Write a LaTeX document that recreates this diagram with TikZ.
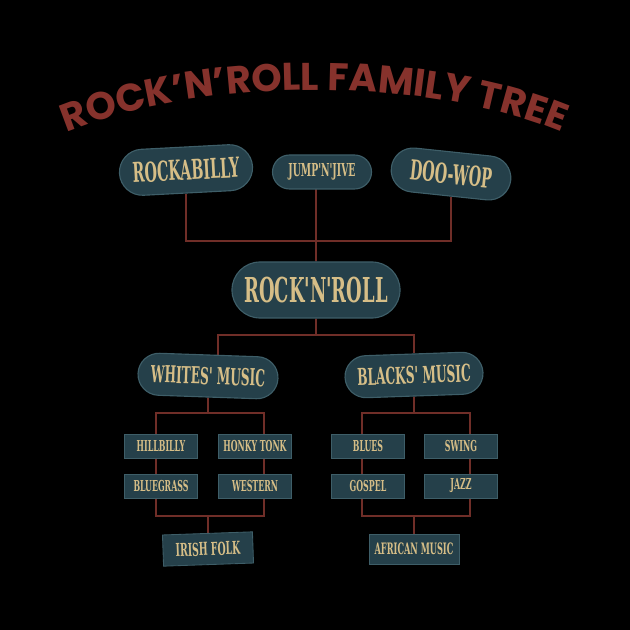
\documentclass[tikz,border=0pt]{standalone}
\usepackage{fontspec}
\usepackage{xcolor}
\usepackage{tikz}
\usetikzlibrary{shapes.misc,decorations.text}
\newfontfamily\titlefont{Poppins}
\newfontfamily\westfont{DejaVu Serif Condensed}[FakeStretch=0.58]
\newcommand\wsize[1]{\westfont\bfseries\fontsize{#1}{#1}\selectfont}
\definecolor{titlered}{RGB}{134,50,44}
\definecolor{linkred}{RGB}{112,46,40}
\definecolor{tealbox}{RGB}{37,64,74}
\definecolor{tealedge}{RGB}{62,94,104}
\definecolor{tan}{RGB}{214,190,135}
\pgfdeclarelayer{back}
\pgfdeclarelayer{links}
\pgfsetlayers{back,links,main}

\begin{document}
\begin{tikzpicture}[x=0.025cm, y=-0.025cm,
    pill/.style={rounded rectangle, fill=tealbox, draw=tealedge, line width=0.8pt,
        text=tan, inner sep=0pt, font=\wsize{#1}},
    tag/.style={rectangle, fill=tealbox, draw=tealedge, line width=0.6pt, text=tan,
        inner sep=0pt, font=\wsize{10.7}, minimum width=1.825cm, minimum height=0.6cm},
    link/.style={draw=linkred, line width=1.3pt}]
    \begin{pgfonlayer}{back}
        \fill[black] (0,0) rectangle (630,630);
    \end{pgfonlayer}

    % title on an arc
    \path[decorate, decoration={text along path, text align=center, text color=titlered,
        text={|\titlefont\bfseries\fontsize{27.5}{27.5}\selectfont|ROCK’N’ROLL FAMILY TREE}}]
        (60,135) .. controls (200,75) and (430,75) .. (568,135);

    % roots
    \node[pill=19.5, minimum width=3.33cm, minimum height=1.15cm, rotate=3] (rockabilly) at (186,170) {ROCKABILLY};
    \node[pill=12.7, minimum width=2.475cm, minimum height=0.85cm] (jumpjive) at (322,172) {JUMP'N'JIVE};
    \node[pill=19.5, minimum width=3.0cm, minimum height=1.1cm, rotate=-6] (doowop) at (451,174) {DOO-WOP};
    \node[pill=24.4, minimum width=4.2cm, minimum height=1.4cm] (rocknroll) at (316,290) {ROCK'N'ROLL};

    \node[pill=16.6, minimum width=3.5cm, minimum height=1.05cm, rotate=-2] (whites) at (208,376) {WHITES' MUSIC};
    \node[pill=16.6, minimum width=3.45cm, minimum height=1.05cm, rotate=2] (blacks) at (414,375) {BLACKS' MUSIC};

    % whites' music
    \node[tag] (hillbilly) at (161,446) {HILLBILLY};
    \node[tag] (honkytonk) at (255,446) {HONKY TONK};
    \node[tag] (bluegrass) at (161,486) {BLUEGRASS};
    \node[tag] (western) at (255,486) {WESTERN};
    \node[tag, font=\wsize{12.7}, minimum width=2.25cm, minimum height=0.78cm, rotate=2] (irishfolk) at (208,549) {IRISH FOLK};

    % blacks' music
    \node[tag] (blues) at (368,446) {BLUES};
    \node[tag] (swing) at (461,446) {SWING};
    \node[tag] (gospel) at (368,486) {GOSPEL};
    \node[tag] (jazz) at (461,486) {JAZZ};
    \node[tag, font=\wsize{11.2}, minimum width=2.25cm, minimum height=0.75cm] (african) at (414,549) {AFRICAN MUSIC};

    \coordinate (topjoin) at (316,241);
    \coordinate (midjoin) at (316,335);
    \coordinate (wtopl) at (156,413);
    \coordinate (wbotr) at (264,516);
    \coordinate (btopl) at (362,413);
    \coordinate (bbotr) at (470,516);

    \begin{pgfonlayer}{links}
        \draw[link] (rockabilly) |- (topjoin) -| (doowop);
        \draw[link] (topjoin |- jumpjive) -- (rocknroll);
        \draw[link] (rocknroll) -- (midjoin);
        \draw[link] ([xshift=7pt]whites.center) |- (midjoin) -| (blacks);
        \draw[link] (whites) -- (whites |- wtopl);
        \draw[link] (wtopl) rectangle (wbotr);
        \draw[link] (irishfolk) -- (irishfolk |- wbotr);
        \draw[link] (blacks) -- (blacks |- btopl);
        \draw[link] (btopl) rectangle (bbotr);
        \draw[link] (african) -- (african |- bbotr);
    \end{pgfonlayer}
\end{tikzpicture}
\end{document}
